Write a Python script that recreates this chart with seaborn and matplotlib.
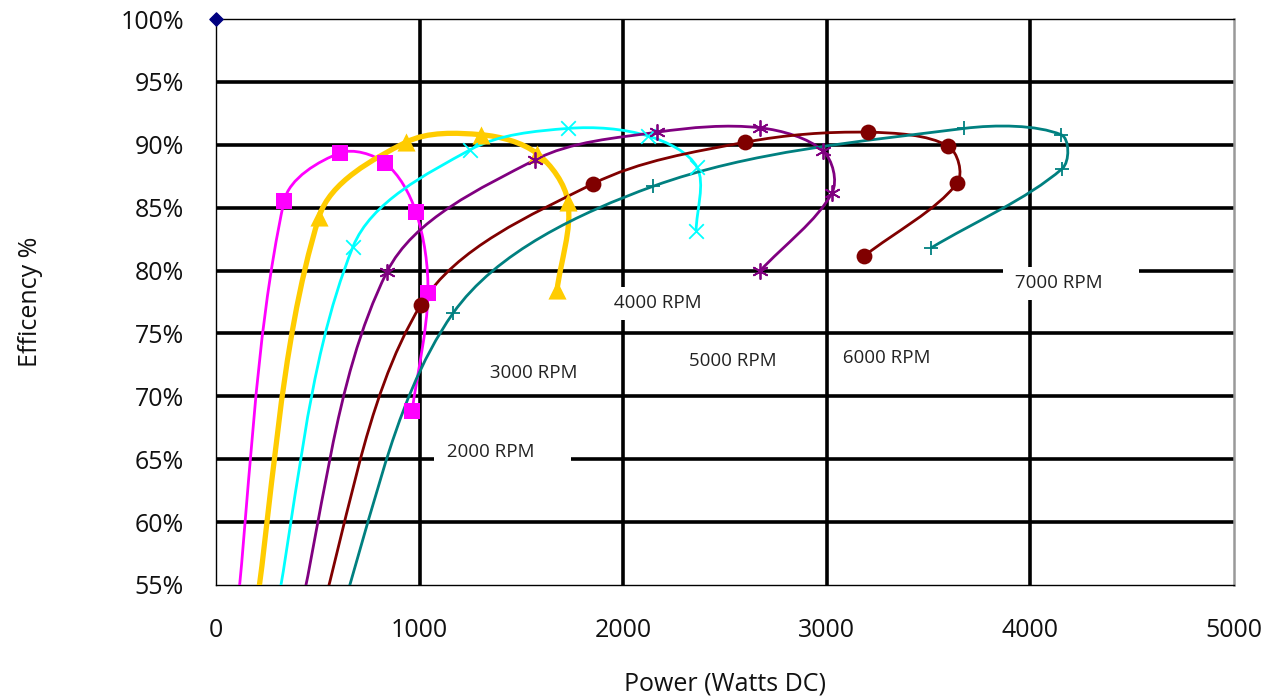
import numpy as np
import pandas as pd
import matplotlib
matplotlib.use('Agg')
import matplotlib.pyplot as plt
from matplotlib.path import Path
from matplotlib.patches import PathPatch
from matplotlib.ticker import PercentFormatter
import seaborn as sns

# データ (W, 効率%) 先頭の点は軸の下に隠れている
w_2000 = [85, 334, 609, 830, 982, 1041, 963]
eff_2000 = [50.0, 85.5, 89.35, 88.55, 84.66, 78.2, 68.8]

w_3000 = [170, 506, 933, 1302, 1577, 1729, 1675]
eff_3000 = [50.0, 84.26, 90.2, 90.8, 89.3, 85.45, 78.45]

w_4000 = [262, 673, 1248, 1729, 2122, 2363, 2358]
eff_4000 = [50.0, 81.9, 89.6, 91.3, 90.7, 88.2, 83.15]

w_5000 = [373, 840, 1567, 2166, 2672, 2982, 3026, 2672]
eff_5000 = [50.0, 79.9, 88.8, 91.0, 91.35, 89.5, 86.2, 79.97]

w_6000 = [467, 1007, 1852, 2598, 3203, 3596, 3640, 3183]
eff_6000 = [50.0, 77.3, 86.9, 90.2, 91.0, 89.9, 86.95, 81.15]

w_7000 = [555, 1164, 2147, 3674, 4151, 4156, 3512]
eff_7000 = [50.0, 76.6, 86.7, 91.3, 90.8, 88.1, 81.8]

rpm_labels = ['2000 RPM', '3000 RPM', '4000 RPM', '5000 RPM', '6000 RPM', '7000 RPM']
label_w = [1110, 1320, 1930, 2300, 3055, 3900]
label_eff = [65.6, 71.85, 77.4, 72.8, 73.05, 79.0]

series = [
    (w_2000, eff_2000, '#FF00FF', 's', 2.0, 130),
    (w_3000, eff_3000, '#FFCC00', '^', 3.8, 170),
    (w_4000, eff_4000, '#00FFFF', 'x', 2.0, 110),
    (w_5000, eff_5000, '#800080', (6, 2, 0), 2.0, 120),
    (w_6000, eff_6000, '#800000', 'o', 2.0, 130),
    (w_7000, eff_7000, '#008080', '+', 2.0, 110),
]

# 画面上のスケール (px / W, px / %)
SX = 1018 / 5000
SY = 566 / 45


def smooth_path(xs, ys):
    # Excel風のなめらかな線 (ベジェ曲線、画面座標で制御点を決める)
    p = np.column_stack([np.array(xs) * SX, np.array(ys) * SY]).astype(float)
    n = len(p)
    c_out = [None] * n
    c_in = [None] * n
    for i in range(n):
        if i == 0:
            c_out[i] = p[0] + (p[1] - p[0]) / 3
            continue
        if i == n - 1:
            c_in[i] = p[i] - (p[i] - p[i - 1]) / 3
            continue
        d = p[i + 1] - p[i - 1]
        lp = np.linalg.norm(p[i] - p[i - 1])
        ln = np.linalg.norm(p[i + 1] - p[i])
        c_out[i] = p[i] + d * ln / (lp + ln) / 3
        c_in[i] = p[i] - d * lp / (lp + ln) / 3
    verts = [p[0]]
    codes = [Path.MOVETO]
    for i in range(n - 1):
        verts += [c_out[i], c_in[i + 1], p[i + 1]]
        codes += [Path.CURVE4] * 3
    verts = np.array(verts) / np.array([SX, SY])
    return Path(verts, codes)


sns.set_style('white')
plt.rcParams['font.family'] = ['Open Sans', 'DejaVu Sans']

fig = plt.figure(figsize=(12.78, 6.96), dpi=100)
ax = fig.add_axes([0.169, 0.1595, 0.7966, 0.8132])

for xs, ys, color, marker, lw, ms in series:
    ax.add_patch(PathPatch(smooth_path(xs, ys), facecolor='none',
                           edgecolor=color, lw=lw, zorder=3))
    df = pd.DataFrame({'w': xs, 'eff': ys})
    if marker in ('x', '+', (6, 2, 0)):
        sns.scatterplot(data=df, x='w', y='eff', ax=ax, marker=marker,
                        color=color, s=ms, linewidth=1.3, zorder=4)
    else:
        sns.scatterplot(data=df, x='w', y='eff', ax=ax, marker=marker,
                        color=color, s=ms, linewidth=0, zorder=4)

# 左上のダミー点
ax.scatter([0], [100], marker='D', color='#000080', s=45, zorder=5, clip_on=False)

for txt, x, y in zip(rpm_labels, label_w, label_eff):
    ax.text(x, y, ' ' + txt + '      ', fontsize=13.5, ha='left', va='center',
            color='#222222', zorder=2.5,
            bbox=dict(boxstyle='square,pad=0.4', fc='white', ec='none'))

ax.set_xlim(0, 5000)
ax.set_ylim(55, 100)
ax.set_xticks([0, 1000, 2000, 3000, 4000, 5000])
ax.set_yticks([55, 60, 65, 70, 75, 80, 85, 90, 95, 100])
ax.yaxis.set_major_formatter(PercentFormatter(xmax=100, decimals=0))

ax.set_axisbelow(True)
ax.grid(True, color='black', lw=2.6)
for gl, v in zip(ax.get_xgridlines(), ax.get_xticks()):
    if v in (0, 5000):
        gl.set_visible(False)
for gl, v in zip(ax.get_ygridlines(), ax.get_yticks()):
    if v in (55, 100):
        gl.set_visible(False)

ax.tick_params(axis='both', direction='out', length=7, width=1, color='#999999',
               labelsize=18, labelcolor='#111111')
ax.tick_params(axis='x', pad=17)
ax.tick_params(axis='y', pad=16)
for s in ['left', 'bottom', 'top']:
    ax.spines[s].set_color('black')
    ax.spines[s].set_linewidth(1.0)
ax.spines['right'].set_color('#999999')
ax.spines['right'].set_linewidth(1.8)

ax.set_xlabel('Power (Watts DC)', fontsize=18, labelpad=20, color='#111111')
ax.set_ylabel('Efficency %', fontsize=18, labelpad=56, color='#111111')

plt.savefig('out.png', dpi=100)
